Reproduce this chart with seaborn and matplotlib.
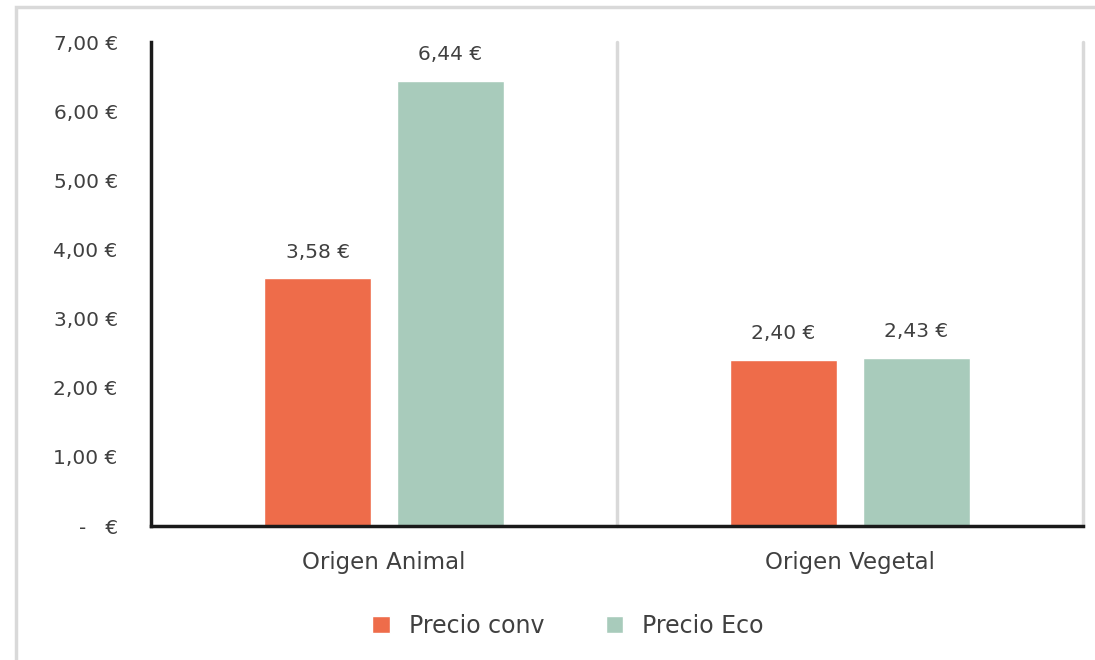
import matplotlib
matplotlib.use("Agg")
import matplotlib.pyplot as plt
from matplotlib.patches import Rectangle
from matplotlib.ticker import FuncFormatter, FixedLocator
import pandas as pd
import seaborn as sns

categories = ["Origen Animal", "Origen Vegetal"]
series = ["Precio conv", "Precio Eco"]
precio_conv = [3.58, 2.40]
precio_eco = [6.44, 2.43]

df = pd.DataFrame({
    "Categoria": categories * 2,
    "Serie": [series[0]] * 2 + [series[1]] * 2,
    "Precio": precio_conv + precio_eco,
})

sns.set_theme(style="white")
plt.rcParams["font.family"] = ["DejaVu Sans"]
text_color = "#404040"

fig = plt.figure(figsize=(10.95, 6.6), dpi=100)
ax = fig.add_axes([151 / 1095, 1 - 526 / 660, (1083 - 151) / 1095, (526 - 42) / 660])

palette = {"Precio conv": "#EE6C4A", "Precio Eco": "#A8CBBB"}
sns.barplot(data=df, x="Categoria", y="Precio", hue="Serie", palette=palette,
            width=0.57, gap=0.2, saturation=1, ax=ax, legend=True)

ax.set_xlim(-0.5, 1.5)
ax.set_ylim(0, 7)
ax.set_xlabel("")
ax.set_ylabel("")

def euro(v, pos=None):
    if abs(v) < 1e-9:
        return "-   €"
    return f"{v:.2f} €".replace(".", ",")

ax.yaxis.set_major_locator(FixedLocator(range(0, 8)))
ax.yaxis.set_major_formatter(FuncFormatter(euro))
ax.tick_params(axis="y", length=0, pad=24, labelsize=14.5, labelcolor=text_color)
ax.tick_params(axis="x", length=0, pad=18, labelsize=16.5, labelcolor=text_color)

# vertical gridlines at category boundaries
for xb in [0.5, 1.5]:
    ax.axvline(xb, color="#d9d9d9", lw=2.5, zorder=0, clip_on=False)

for side in ["top", "right"]:
    ax.spines[side].set_visible(False)
for side in ["left", "bottom"]:
    ax.spines[side].set_color("#1a1a1a")
    ax.spines[side].set_linewidth(2.5)

for cont in ax.containers:
    ax.bar_label(cont, labels=[euro(v) for v in cont.datavalues], padding=12,
                 fontsize=14.5, color=text_color)

handles, labels = ax.get_legend_handles_labels()
ax.get_legend().remove()
fig.legend(handles, labels, loc="center", bbox_to_anchor=(568 / 1095, 1 - 626 / 660),
           ncol=2, frameon=False, fontsize=17, labelcolor=text_color,
           handlelength=0.75, handleheight=0.75, columnspacing=2.6, handletextpad=0.8)

# light frame around the chart area
x0 = 16 / 1095
y_top = 1 - 7 / 660
fig.patches.append(Rectangle((x0, -0.2), 1.2, y_top + 0.2, transform=fig.transFigure,
                             fill=False, edgecolor="#d9d9d9", lw=2.5, zorder=-1))

fig.savefig("out.png", dpi=100, facecolor="white")
